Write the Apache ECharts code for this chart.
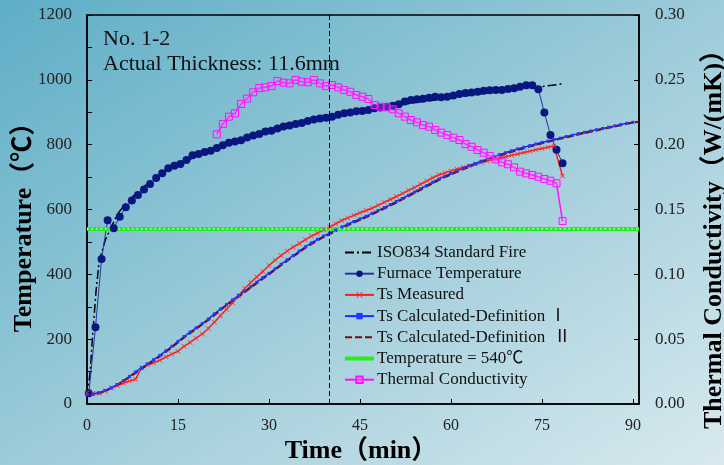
<!DOCTYPE html>
<html>
<head>
<meta charset="utf-8">
<script src="https://cdn.jsdelivr.net/npm/echarts@6/dist/echarts.min.js"></script>
<style>
  html, body { margin: 0; padding: 0; }
  #main {
    width: 724px;
    height: 465px;
    background: linear-gradient(to bottom right, #5eaec7 0%, #9ccbd9 50%, #d8e9ee 100%);
  }
</style>
</head>
<body>
<div id="main"></div>
<script>
// ISO834 standard fire curve
const isoTime = [0, 0.5, 1, 1.5, 2, 3, 4, 5, 6, 8, 10, 12, 15, 20, 25, 30, 35, 40, 45, 50, 55, 60, 65, 70, 75, 78.5];
const isoTemp = [20, 95, 230, 350, 440, 505, 545, 585, 610, 648, 680, 705, 738, 780, 814, 842, 865, 884, 902, 918, 932, 945, 957, 968, 979, 988];

// furnace temperature, about one point a minute
const furnaceTime = [0.3, 1.4, 2.4, 3.4, 4.4, 5.4, 6.4, 7.4, 8.4, 9.4, 10.4, 11.4, 12.4, 13.4, 14.4, 15.4, 16.4, 17.4, 18.4, 19.4,
  20.4, 21.4, 22.4, 23.4, 24.4, 25.4, 26.4, 27.4, 28.4, 29.4, 30.4, 31.4, 32.4, 33.4, 34.4, 35.4, 36.4, 37.4, 38.4, 39.4,
  40.4, 41.4, 42.4, 43.4, 44.4, 45.4, 46.4, 47.4, 48.4, 49.4, 50.4, 51.4, 52.4, 53.4, 54.4, 55.4, 56.4, 57.4, 58.4, 59.4,
  60.4, 61.4, 62.4, 63.4, 64.4, 65.4, 66.4, 67.4, 68.4, 69.4, 70.4, 71.4, 72.4, 73.4, 74.4, 75.4, 76.4, 77.4, 78.4];
const furnaceTemp = [33, 237, 447, 567, 542, 578, 607, 628, 645, 662, 679, 697, 712, 727, 735, 740, 753, 767, 771, 777,
  781, 790, 798, 806, 810, 814, 822, 828, 833, 841, 843, 850, 856, 859, 864, 867, 873, 878, 881, 883,
  886, 892, 897, 899, 903, 904, 907, 912, 915, 917, 920, 925, 933, 938, 940, 942, 945, 948, 946, 948,
  952, 956, 959, 961, 963, 966, 968, 969, 969, 972, 974, 979, 983, 983, 971, 899, 830, 784, 743];

// Ts measured
const measTime = [0, 1, 2, 3, 4, 5, 6, 7, 8, 9, 10, 11, 12, 13, 14, 15, 16, 17, 18, 19,
  20, 21, 22, 23, 24, 25, 26, 27, 28, 29, 30, 31, 32, 33, 34, 35, 36, 37, 38, 39,
  40, 41, 42, 43, 44, 45, 46, 47, 48, 49, 50, 51, 52, 53, 54, 55, 56, 57, 58, 59,
  60, 61, 62, 63, 64, 65, 66, 67, 68, 69, 70, 71, 72, 73, 74, 75, 76, 77, 78.4];
const measTemp = [35, 33, 33, 40, 50, 57, 64, 71, 76, 112, 120, 127, 135, 145, 154, 163, 178, 190, 203, 216,
  233, 252, 272, 292, 312, 334, 356, 375, 392, 409, 427, 444, 458, 472, 484, 495, 507, 518, 527, 537,
  546, 556, 566, 574, 582, 590, 597, 604, 613, 622, 631, 640, 649, 659, 668, 678, 688, 698, 707, 713,
  719, 725, 730, 735, 740, 745, 750, 755, 759, 763, 767, 771, 776, 780, 784, 788, 792, 796, 703];

// Ts calculated, definition I (one point a minute)
const calc1Time = [0, 1, 2, 3, 4, 5, 6, 7, 8, 9, 10, 11, 12, 13, 14, 15, 16, 17, 18, 19,
  20, 21, 22, 23, 24, 25, 26, 27, 28, 29, 30, 31, 32, 33, 34, 35, 36, 37, 38, 39,
  40, 41, 42, 43, 44, 45, 46, 47, 48, 49, 50, 51, 52, 53, 54, 55, 56, 57, 58, 59,
  60, 61, 62, 63, 64, 65, 66, 67, 68, 69, 70, 71, 72, 73, 74, 75, 76, 77, 78, 79,
  80, 81, 82, 83, 84, 85, 86, 87, 88, 89, 90];
const calc1Temp = [28, 30, 35, 42, 50, 60, 72, 85, 99, 112, 124, 137, 150, 164, 178, 193, 208, 222, 235, 248,
  262, 278, 293, 307, 321, 335, 348, 362, 376, 390, 403, 417, 431, 445, 458, 472, 485, 497, 508, 518,
  527, 537, 546, 555, 563, 571, 579, 588, 597, 606, 615, 625, 634, 644, 654, 664, 674, 684, 694, 703,
  711, 719, 727, 735, 742, 749, 756, 763, 769, 775, 781, 787, 792, 797, 802, 807, 811, 816, 820, 825,
  829, 834, 838, 842, 846, 850, 854, 858, 862, 866, 869];

// Ts calculated, definition II
const calc2Time = [0, 2, 4, 6, 8, 10, 12, 14, 16, 18, 20, 22, 24, 26, 28, 30, 32, 34, 36, 38,
  40, 42, 44, 46, 48, 50, 52, 54, 56, 58, 60, 62, 64, 66, 68, 70, 72, 74, 76, 78,
  80, 82, 84, 86, 88, 90, 91];
const calc2Temp = [26, 33, 48, 70, 96, 121, 147, 175, 205, 232, 259, 290, 318, 345, 373, 400, 428, 455, 482, 505,
  524, 543, 560, 576, 594, 612, 631, 651, 671, 691, 708, 724, 739, 753, 766, 778, 789, 799, 809, 818,
  827, 836, 844, 852, 860, 868, 871];

// 540 °C reference line
const refTime = [0, 91];
const refTemp = [540, 540];

// thermal conductivity, right axis
const kTime = [21.4, 22.4, 23.4, 24.4, 25.4, 26.4, 27.4, 28.4, 29.4, 30.4, 31.4, 32.4, 33.4, 34.4, 35.4, 36.4, 37.4, 38.4, 39.4,
  40.4, 41.4, 42.4, 43.4, 44.4, 45.4, 46.4, 47.4, 48.4, 49.4, 50.4, 51.4, 52.4, 53.4, 54.4, 55.4, 56.4, 57.4, 58.4, 59.4,
  60.4, 61.4, 62.4, 63.4, 64.4, 65.4, 66.4, 67.4, 68.4, 69.4, 70.4, 71.4, 72.4, 73.4, 74.4, 75.4, 76.4, 77.4, 78.4];
const kValue = [0.208, 0.216, 0.2216, 0.2242, 0.2314, 0.2355, 0.2404, 0.2437, 0.2442, 0.2452, 0.2491, 0.2478, 0.2473, 0.2499, 0.2486, 0.2481, 0.2499, 0.2473, 0.2452,
  0.246, 0.2442, 0.2422, 0.2408, 0.2383, 0.237, 0.2352, 0.2306, 0.2293, 0.2288, 0.2273, 0.2242, 0.2216, 0.219, 0.2172, 0.2152, 0.2139, 0.2113, 0.2093, 0.2075,
  0.2054, 0.2036, 0.2005, 0.1984, 0.1959, 0.1938, 0.1913, 0.1887, 0.1864, 0.1849, 0.1825, 0.1792, 0.1779, 0.1766, 0.1753, 0.1735, 0.1722, 0.1702, 0.1411];

const fireTime = 40; // vertical dashed marker

const zip = (xs, ys) => xs.map((x, i) => [x, ys[i]]);
const serif = '"Liberation Serif", "Times New Roman", "Noto Sans CJK SC", serif';
const xMark = 'path://M0,1L1,0L5,4L9,0L10,1L6,5L10,9L9,10L5,6L1,10L0,9L4,5Z';
const noMarker = { opacity: 0 };

const chart = echarts.init(document.getElementById('main'));

const option = {
  backgroundColor: 'transparent',
  animation: false,
  grid: {
    left: 87, top: 15, width: 552, height: 389,
    show: true, borderColor: '#000', borderWidth: 1.5, backgroundColor: 'transparent'
  },
  graphic: [
    { type: 'text', left: 103, top: 28, style: { text: 'No. 1-2', font: '22px ' + serif, fill: '#111' } },
    { type: 'text', left: 103, top: 53, style: { text: 'Actual Thickness: 11.6mm', font: '22px ' + serif, fill: '#111' } },
    // axis titles
    {
      type: 'text', x: 24, y: 221, rotation: Math.PI / 2,
      style: { text: 'Temperature（℃）', font: 'bold 26px ' + serif, fill: '#000', align: 'center', verticalAlign: 'middle' }
    },
    {
      type: 'text', x: 714, y: 233, rotation: Math.PI / 2,
      style: { text: 'Thermal Conductivity（W/(mK)）', font: 'bold 26px ' + serif, fill: '#000', align: 'center', verticalAlign: 'middle' }
    },
    {
      type: 'text', x: 361, y: 451,
      style: { text: 'Time（min）', font: 'bold 26px ' + serif, fill: '#000', align: 'center', verticalAlign: 'middle' }
    }
  ],
  legend: {
    orient: 'vertical',
    left: 343,
    top: 244,
    padding: 0,
    itemWidth: 29,
    itemHeight: 8,
    itemGap: 4.2,
    data: [
      { name: 'ISO834 Standard Fire', itemStyle: noMarker },
      'Furnace Temperature',
      'Ts Measured',
      'Ts Calculated-Definition Ⅰ',
      { name: 'Ts Calculated-Definition  Ⅱ', itemStyle: noMarker },
      { name: 'Temperature = 540℃', itemStyle: noMarker, lineStyle: { width: 4 } },
      'Thermal Conductivity'
    ],
    textStyle: { fontFamily: serif, fontSize: 17, color: '#111', lineHeight: 16, padding: [0, 0, 0, -2] }
  },
  xAxis: {
    type: 'value',
    min: 0,
    max: 91,
    interval: 15,
    axisLine: { lineStyle: { color: '#000', width: 1.5 } },
    axisTick: { inside: true, length: 5, lineStyle: { color: '#000' } },
    axisLabel: {
      margin: 14, fontFamily: serif, fontSize: 16, color: '#222',
      showMaxLabel: false,
      formatter: v => (v % 15 === 0 ? String(v) : '')
    },
    splitLine: { show: false }
  },
  yAxis: [
    {
      type: 'value',
      min: 0,
      max: 1200,
      interval: 200,
      axisLine: { show: true, lineStyle: { color: '#000', width: 1.5 } },
      axisTick: { inside: true, length: 5, lineStyle: { color: '#000' } },
      minorTick: { show: true, splitNumber: 2, length: 5, lineStyle: { color: '#000' } },
      axisLabel: { margin: 15, fontFamily: serif, fontSize: 17, color: '#222', formatter: v => String(v) },
      splitLine: { show: false }
    },
    {
      type: 'value',
      position: 'right',
      min: 0,
      max: 0.3,
      interval: 0.05,
      axisLine: { show: true, lineStyle: { color: '#000', width: 1.5 } },
      axisTick: { inside: true, length: 5, lineStyle: { color: '#000' } },
      axisLabel: { margin: 16, fontFamily: serif, fontSize: 17, color: '#222', formatter: v => v.toFixed(2) },
      splitLine: { show: false }
    }
  ],
  series: [
    {
      name: 'ISO834 Standard Fire',
      type: 'line',
      data: zip(isoTime, isoTemp),
      showSymbol: false,
      lineStyle: { color: '#000', width: 1.5, type: [9, 3, 2, 3] },
      itemStyle: { color: '#000' },
      markLine: {
        silent: true,
        symbol: 'none',
        label: { show: false },
        lineStyle: { color: '#000', width: 1, type: [5, 3] },
        data: [{ xAxis: fireTime }]
      }
    },
    {
      name: 'Furnace Temperature',
      type: 'line',
      data: zip(furnaceTime, furnaceTemp),
      symbol: 'circle',
      symbolSize: 8,
      lineStyle: { color: '#2434a0', width: 1 },
      itemStyle: { color: '#0a1680' }
    },
    {
      name: 'Ts Measured',
      type: 'line',
      data: zip(measTime, measTemp),
      symbol: xMark,
      symbolSize: 5,
      lineStyle: { color: '#ff1a1a', width: 1.5 },
      itemStyle: { color: '#ff2a2a' }
    },
    {
      name: 'Ts Calculated-Definition Ⅰ',
      type: 'line',
      data: zip(calc1Time, calc1Temp),
      symbol: 'rect',
      symbolSize: 3,
      lineStyle: { color: '#1a2cff', width: 1.5 },
      itemStyle: { color: '#2038ff' }
    },
    {
      name: 'Ts Calculated-Definition  Ⅱ',
      type: 'line',
      data: zip(calc2Time, calc2Temp),
      showSymbol: false,
      lineStyle: { color: '#7a0a12', width: 2, type: [7, 3] },
      itemStyle: { color: '#7a0a12' }
    },
    {
      name: 'Temperature = 540℃',
      type: 'line',
      data: zip(refTime, refTemp),
      showSymbol: false,
      lineStyle: { color: '#22ee22', width: 4 },
      itemStyle: { color: '#22ee22' }
    },
    {
      name: '540 dots',
      type: 'line',
      data: zip(refTime, refTemp),
      showSymbol: false,
      silent: true,
      lineStyle: { color: '#e8ffe8', width: 1.2, type: [1.5, 3] }
    },
    {
      name: 'Thermal Conductivity',
      type: 'line',
      yAxisIndex: 1,
      data: zip(kTime, kValue),
      symbol: 'rect',
      symbolSize: 7,
      lineStyle: { color: '#ff10ff', width: 1.5 },
      itemStyle: { color: 'rgba(255,120,255,0.25)', borderColor: '#ff10ff', borderWidth: 1 }
    }
  ]
};

chart.setOption(option);
window.addEventListener('resize', () => chart.resize());
</script>
</body>
</html>
